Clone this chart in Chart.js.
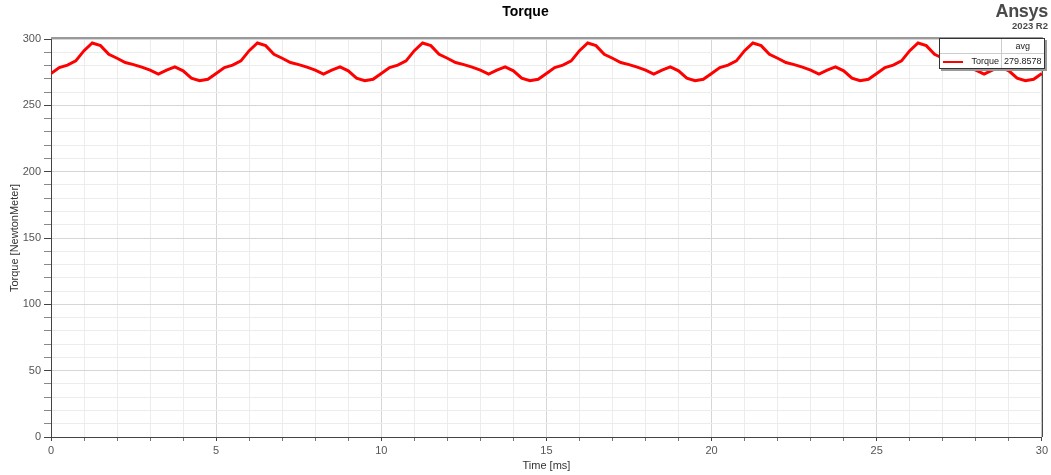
<!DOCTYPE html>
<html>
<head>
<meta charset="utf-8">
<script src="https://cdn.jsdelivr.net/npm/chart.js@4.4.0/dist/chart.umd.min.js"></script>
<style>
  body { margin: 0; background: #fff; font-family: Arial, "Liberation Sans", sans-serif; }
  #wrap { position: relative; width: 1051px; height: 475px; }
  #title { position: absolute; left: 0; top: 3px; width: 1051px; text-align: center;
           font: bold 14px Arial, "Liberation Sans", sans-serif; color: #000; }
  #brand { position: absolute; right: 3px; top: 1px; text-align: right; color: #4a4a4a; font-weight: bold; }
  #brand .b1 { font-size: 18px; line-height: 20px; letter-spacing: -0.3px; }
  #brand .b2 { font-size: 9.5px; line-height: 10px; }
  #legend { position: absolute; left: 939px; top: 38px; background: #fff; border: 1px solid #333;
            box-shadow: 2px 2px 0 #999; font-size: 9px; color: #222; }
  #legend table { border-collapse: collapse; }
  #legend td { padding: 0 2px; height: 14px; white-space: nowrap; }
  #legend .hd td { border-bottom: 1px solid #ccc; }
  #legend .c1 { width: 57px; text-align: right; border-right: 1px solid #ccc; }
  #legend .c2 { width: 37px; text-align: center; }
  #legend .sw { display: inline-block; width: 20px; height: 2px; background: #f00; vertical-align: middle; margin-right: 8px; }
</style>
</head>
<body>
<div id="wrap">
  <canvas id="c" width="1051" height="475"></canvas>
  <div id="title">Torque</div>
  <div id="brand"><div class="b1">Ansys</div><div class="b2">2023 R2</div></div>
  <div id="legend">
    <table>
      <tr class="hd"><td class="c1"></td><td class="c2">avg</td></tr>
      <tr><td class="c1"><span class="sw"></span>Torque</td><td class="c2">279.8578</td></tr>
    </table>
  </div>
</div>
<script>
/* sampling grid, 0.25 ms */
const timeMs = Array.from({ length: 121 }, (_, i) => i * 0.25);

/* torque [NewtonMeter] */
const torque = [
  274, 278.5, 280.3, 283.5, 291.2, 297, 295, 288.5, 285.5, 282.3, 280.7, 278.8, 276.6, 273.6, 276.6, 279, 276, 270.5, 268.6, 269.6,
  274, 278.5, 280.3, 283.5, 291.2, 297, 295, 288.5, 285.5, 282.3, 280.7, 278.8, 276.6, 273.6, 276.6, 279, 276, 270.5, 268.6, 269.6,
  274, 278.5, 280.3, 283.5, 291.2, 297, 295, 288.5, 285.5, 282.3, 280.7, 278.8, 276.6, 273.6, 276.6, 279, 276, 270.5, 268.6, 269.6,
  274, 278.5, 280.3, 283.5, 291.2, 297, 295, 288.5, 285.5, 282.3, 280.7, 278.8, 276.6, 273.6, 276.6, 279, 276, 270.5, 268.6, 269.6,
  274, 278.5, 280.3, 283.5, 291.2, 297, 295, 288.5, 285.5, 282.3, 280.7, 278.8, 276.6, 273.6, 276.6, 279, 276, 270.5, 268.6, 269.6,
  274, 278.5, 280.3, 283.5, 291.2, 297, 295, 288.5, 285.5, 282.3, 280.7, 278.8, 276.6, 273.6, 276.6, 279, 276, 270.5, 268.6, 269.6,
  274
];

const xRange = [0, 30];
const yRange = [0, 300];

Chart.defaults.font.family = 'Arial, "Liberation Sans", sans-serif';
Chart.defaults.font.size = 11;

/* top and right frame lines */
const framePlugin = {
  id: 'frame',
  afterDatasetsDraw(chart) {
    const { ctx, chartArea: a } = chart;
    ctx.save();
    ctx.strokeStyle = '#999';
    ctx.lineWidth = 2;
    ctx.beginPath(); ctx.moveTo(a.left, a.top - 1); ctx.lineTo(a.right + 1, a.top - 1); ctx.stroke();
    ctx.strokeStyle = '#333';
    ctx.lineWidth = 1;
    ctx.beginPath(); ctx.moveTo(a.right + 0.5, a.top); ctx.lineTo(a.right + 0.5, a.bottom); ctx.stroke();
    ctx.restore();
  }
};

new Chart(document.getElementById('c'), {
  type: 'line',
  data: {
    datasets: [{
      label: 'Torque',
      data: timeMs.map((t, i) => ({ x: t, y: torque[i] })),
      borderColor: '#ff0000', borderWidth: 3, pointRadius: 0, tension: 0, fill: false
    }]
  },
  options: {
    responsive: false, animation: false,
    layout: { padding: { top: 39, right: 7, left: 0, bottom: 0 } },
    plugins: { legend: { display: false }, tooltip: { enabled: false } },
    scales: {
      x: {
        type: 'linear', min: xRange[0], max: xRange[1],
        afterFit(s) { s.height = 38; },
        border: { color: '#444', width: 1 },
        grid: {
          color: c => c.tick && c.tick.value % 5 === 0 ? '#d6d6d6' : '#ececec',
          tickColor: c => c.tick && c.tick.value % 5 === 0 ? '#444' : '#777',
          tickLength: 4
        },
        ticks: { stepSize: 1, autoSkip: false, maxRotation: 0, padding: 3, color: '#555',
                 callback: v => v % 5 === 0 ? v : '' },
        title: { display: true, text: 'Time [ms]', color: '#333', padding: { top: 0, bottom: 2 } }
      },
      y: {
        min: yRange[0], max: yRange[1],
        afterFit(s) { s.width = 51; },
        border: { color: '#444', width: 1 },
        grid: {
          color: c => c.tick && c.tick.value % 50 === 0 ? '#d6d6d6' : '#ececec',
          tickColor: c => c.tick && c.tick.value % 50 === 0 ? '#444' : '#888',
          tickLength: 7
        },
        ticks: { stepSize: 10, autoSkip: false, padding: 3, color: '#555',
                 callback: v => v % 50 === 0 ? v : '' },
        title: { display: true, text: 'Torque [NewtonMeter]', color: '#333', padding: { top: 8, bottom: 0 } }
      }
    }
  },
  plugins: [framePlugin]
});
</script>
</body>
</html>
